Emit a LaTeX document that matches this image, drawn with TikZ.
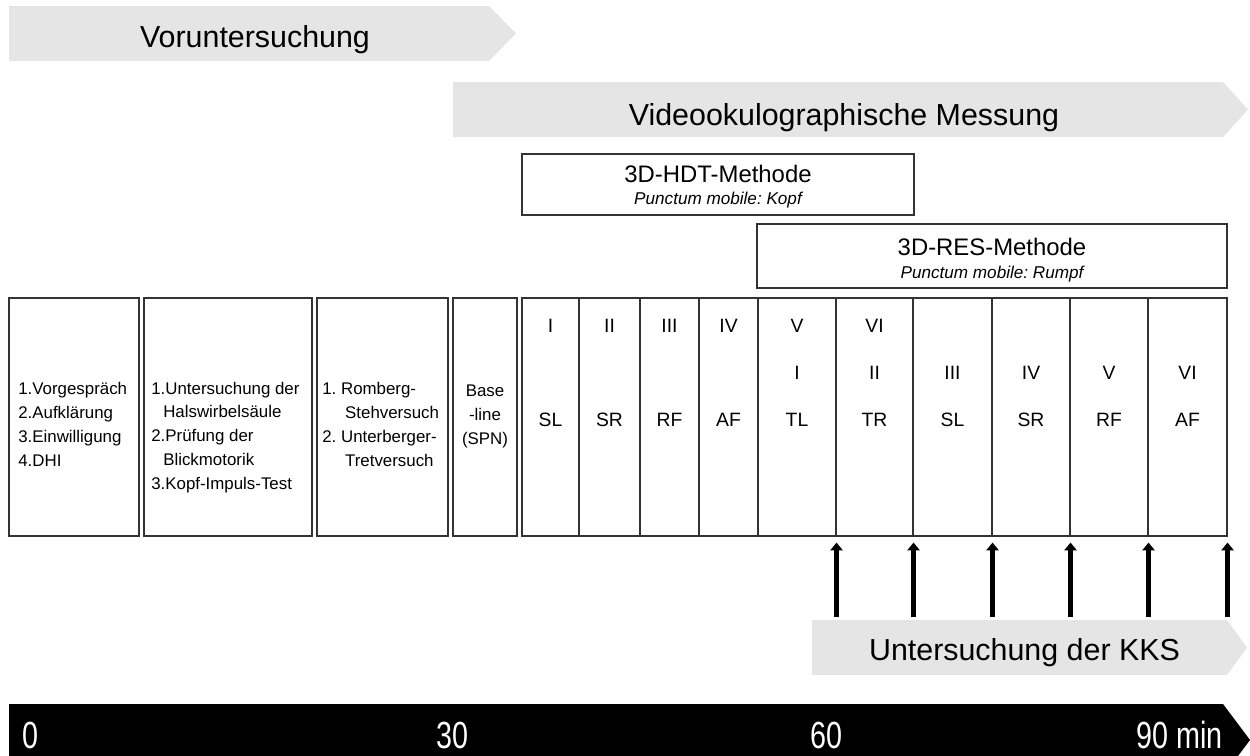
\documentclass[tikz,border=0pt]{standalone}
\usepackage{fontspec}
\setmainfont{Liberation Sans}
\usetikzlibrary{arrows.meta,fit}
\frenchspacing

\begin{document}
\begin{tikzpicture}[x=0.02cm,y=-0.02cm,>={Triangle[length=4.5pt,width=7pt]},
    band/.style={fill=gray!20},
    cell/.style={draw=black!80,line width=0.6pt,inner sep=0pt},
    phasetext/.style={font=\fontsize{17.3}{20}\selectfont,anchor=base},
    methtitle/.style={font=\fontsize{13.6}{16}\selectfont,anchor=base},
    methsub/.style={font=\fontsize{9.75}{12}\selectfont\itshape,anchor=base},
    listtext/.style={font=\fontsize{9.6}{13.5}\selectfont,align=left,anchor=base west,inner sep=0pt},
    celltext/.style={font=\fontsize{11}{13}\selectfont,anchor=base},
    ticktext/.style={font=\fontsize{21.5}{25}\selectfont,text=white,inner sep=0pt},
    pfeil/.style={->,line width=3pt,shorten >=0.12cm}]
  \useasboundingbox (0,0) rectangle (1250,755);

  % phases
  \fill[band] (9,6) -- (489,6) -- (516,33.5) -- (489,61) -- (9,61) -- cycle;
  \node[phasetext] (vor) at (255,47) {Voruntersuchung};
  \fill[band] (453,82) -- (1223,82) -- (1248,109.5) -- (1223,137) -- (453,137) -- cycle;
  \node[phasetext] (vog) at (844,125) {Videookulographische Messung};

  % methods
  \node[cell,fit={(522,154) (914,215)}] (hdt) {};
  \node[methtitle] (hdtT) at (hdt.center |- 0,182) {3D-HDT-Methode};
  \node[methsub] (hdtS) at (hdt.center |- 0,204) {Punctum mobile: Kopf};
  \node[cell,fit={(757,224) (1227,288)}] (res) {};
  \node[methtitle] (resT) at (res.center |- 0,255) {3D-RES-Methode};
  \node[methsub] (resS) at (res.center |- 0,278) {Punctum mobile: Rumpf};

  % pre-examination boxes (text placed by the bottom of its last line)
  \node[cell,fit={(9,298) (139,536)}] (b1) {};
  \node[cell,fit={(144,298) (312,536)}] (b2) {};
  \node[cell,fit={(317,298) (448,536)}] (b3) {};
  \node[cell,fit={(453,298) (517,536)}] (b4) {};
  \node[listtext] (b1t) at (18,466) {1.Vorgespräch\\2.Aufklärung\\3.Einwilligung\\4.DHI};
  \node[listtext] (b2t) at (151,489) {1.Untersuchung der\\\hspace*{6.8pt}Halswirbelsäule\\2.Prüfung der\\\hspace*{6.8pt}Blickmotorik\\3.Kopf-Impuls-Test};
  \node[listtext] (b3t) at (322,466) {1. Romberg-\\\hspace*{13pt}Stehversuch\\2. Unterberger-\\\hspace*{13pt}Tretversuch};
  \node[listtext,align=center,anchor=base] (b4t) at (b4.center |- 0,444) {Base\\-line\\(SPN)};

  % measurement cells
  \foreach \l/\r [count=\i] in {522/579,579/640,640/699,699/758,758/836,836/913,913/992,992/1070,1070/1148,1148/1227}
    \node[cell,fit={(\l,298) (\r,536)}] (c\i) {};
  \foreach \i/\t in {1/I,2/II,3/III,4/IV,5/V,6/VI}
    \node[celltext] (hd\i) at ([yshift=-0.7cm]c\i.north) {\t};
  \foreach \i/\t in {5/I,6/II,7/III,8/IV,9/V,10/VI}
    \node[celltext] (rs\i) at ([yshift=-1.64cm]c\i.north) {\t};
  \foreach \i/\t in {1/SL,2/SR,3/RF,4/AF,5/TL,6/TR,7/SL,8/SR,9/RF,10/AF}
    \node[celltext] (dir\i) at ([yshift=-2.58cm]c\i.north) {\t};

  % KKS
  \fill[band] (812,620) -- (1227,620) -- (1247,647.5) -- (1227,675) -- (812,675) -- cycle;
  \node[phasetext] (kks) at (1024.5,660) {Untersuchung der KKS};
  \coordinate (ktop) at (1000,617);
  \foreach \i in {5,...,10}
    \draw[pfeil] (c\i.south east |- ktop) -- (c\i.south east);

  % time axis
  \begin{scope}
    \clip (0,0) rectangle (1250,755);
    \fill (9,704) -- (1223,704) -- (1250,740) -- (1223,776) -- (9,776) -- cycle;
  \end{scope}
  \node[ticktext,anchor=base west] (t0) at (22,748) {\scalebox{0.76}[1]{0}};
  \node[ticktext,anchor=base] (t30) at (452,748) {\scalebox{0.76}[1]{30}};
  \node[ticktext,anchor=base] (t60) at (826,748) {\scalebox{0.76}[1]{60}};
  \node[ticktext,anchor=base east] (t90) at (1223,748) {\scalebox{0.76}[1]{90 min}};
\end{tikzpicture}
\end{document}
